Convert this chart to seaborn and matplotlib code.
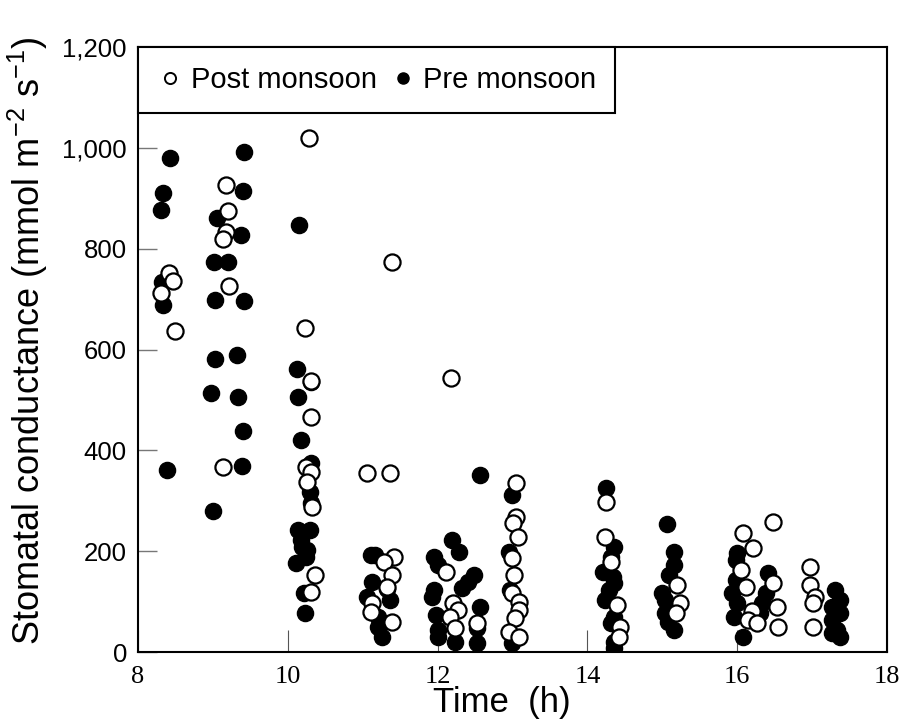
import matplotlib
matplotlib.use("Agg")
import matplotlib.pyplot as plt
import matplotlib.ticker as mticker
from matplotlib.lines import Line2D
import seaborn as sns
import pandas as pd

# ---- data ----
pre_time = [8.31, 8.34, 8.43, 8.32, 8.33, 8.39,
            9.42, 9.40, 9.05, 9.37, 9.01, 9.20, 9.03, 9.41, 9.03, 9.32, 8.98, 9.33, 9.40, 9.39, 9.00,
            10.15, 10.12, 10.14, 10.18, 10.31, 10.31, 10.30, 10.31, 10.13, 10.30, 10.17, 10.26, 10.11, 10.24, 10.19, 10.22, 10.23,
            11.11, 11.16, 11.13, 11.37, 11.06, 11.21, 11.20, 11.26, 11.33,
            12.19, 12.28, 11.95, 12.01, 12.49, 12.40, 12.33, 11.95, 11.92, 12.57, 11.98, 12.01, 12.23, 12.53, 12.53, 12.01, 12.57,
            12.99, 12.95, 12.97, 12.99,
            14.25, 14.36, 14.32, 14.21, 14.34, 14.36, 14.29, 14.23, 14.35, 14.32, 14.35, 14.36,
            15.06, 15.16, 15.16, 15.09, 14.99, 15.03, 15.04, 15.15, 15.08,
            16.00, 15.98, 16.41, 15.98, 15.93, 16.38, 16.00, 16.33, 15.96, 16.08, 16.30,
            17.30, 17.37, 17.26, 17.37, 17.26, 17.33, 17.37, 17.26]
pre_gsw = [876, 910, 979, 733, 689, 362,
           991, 914, 860, 827, 773, 773, 699, 697, 582, 590, 513, 505, 439, 370, 280,
           848, 562, 505, 421, 535, 375, 318, 296, 242, 242, 222, 203, 177, 189, 209, 117, 78,
           193, 193, 139, 103, 109, 70, 50, 30, 125,
           222, 199, 189, 173, 153, 139, 127, 123, 109, 89, 73, 44, 20, 18, 48, 30, 352,
           312, 199, 123, 18,
           326, 209, 189, 159, 149, 137, 123, 103, 70, 58, 20, 8,
           254, 199, 173, 153, 117, 103, 77, 44, 60,
           197, 183, 157, 143, 117, 117, 97, 97, 70, 30, 77,
           123, 103, 89, 77, 64, 44, 30, 38]

post_time = [8.31, 8.41, 8.47, 8.49,
             9.17, 9.20, 9.18, 9.14, 9.22, 9.14,
             10.28, 10.23, 10.31, 10.31, 10.24, 10.31, 10.26, 10.32, 10.36, 10.31,
             11.06, 11.36, 11.39, 11.42, 11.28, 11.39, 11.32, 11.13, 11.11, 11.39,
             12.18, 12.11, 12.20, 12.27, 12.17, 12.53, 12.23,
             13.05, 13.05, 13.00, 13.07, 12.99, 13.02, 12.99, 13.08, 13.09, 13.03, 12.95, 13.09,
             14.25, 14.23, 14.32, 14.40, 14.43, 14.42,
             15.19, 15.23, 15.18,
             16.47, 16.07, 16.21, 16.05, 16.47, 16.11, 16.53, 16.20, 16.14, 16.26, 16.55,
             16.97, 16.97, 17.04, 17.01, 17.01]
post_gsw = [713, 752, 735, 636,
            926, 874, 834, 819, 726, 368,
            1019, 642, 538, 467, 368, 358, 338, 288, 153, 120,
            355, 356, 773, 189, 179, 153, 129, 97, 79, 60,
            544, 159, 97, 83, 70, 58, 48,
            336, 268, 257, 229, 187, 153, 117, 100, 83, 67, 40, 30,
            298, 229, 179, 93, 50, 30,
            133, 97, 77,
            258, 237, 207, 163, 137, 129, 89, 81, 64, 58, 50,
            169, 133, 109, 97, 50]

y_ticks = [0, 200, 400, 600, 800, 1000, 1200]
x_ticks = [8, 10, 12, 14, 16, 18]

pre_df = pd.DataFrame({"Time": pre_time, "gs": pre_gsw})
post_df = pd.DataFrame({"Time": post_time, "gs": post_gsw})

# ---- figure ----
sns.set_theme(style="white")
plt.rcParams["font.family"] = ["Liberation Sans", "DejaVu Sans"]
plt.rcParams["mathtext.fontset"] = "custom"
plt.rcParams["mathtext.rm"] = "Liberation Sans"
plt.rcParams["mathtext.it"] = "Liberation Sans:italic"
plt.rcParams["text.color"] = "black"

fig = plt.figure(figsize=(9.08, 7.23), dpi=100)
ax = fig.add_axes([0.152, 0.098, 0.825, 0.837])

sns.scatterplot(data=pre_df, x="Time", y="gs", ax=ax, s=135, color="black",
                edgecolor="black", linewidth=1.0, marker="o", zorder=3, legend=False)
sns.scatterplot(data=post_df, x="Time", y="gs", ax=ax, s=135, color="white",
                edgecolor="black", linewidth=1.6, marker="o", zorder=4, legend=False)

ax.set_xlim(8, 18)
ax.set_ylim(0, 1200)
ax.set_xticks(x_ticks)
ax.set_yticks(y_ticks)
ax.yaxis.set_major_formatter(mticker.FuncFormatter(lambda v, p: f"{int(v):,}"))

for sp in ax.spines.values():
    sp.set_color("black")
    sp.set_linewidth(1.5)

ax.tick_params(axis="y", direction="in", length=14, width=1.0, color="#777777",
               labelsize=18.5, pad=8, left=True, labelcolor="black")
ax.tick_params(axis="x", direction="in", length=16, width=0.8, color="#555555",
               labelsize=19, pad=10, bottom=True, labelcolor="black")
for lab in ax.get_xticklabels():
    lab.set_family("Liberation Serif")

ax.set_ylabel("Stomatal conductance (mmol m$^{-2}$ s$^{-1}$)", fontsize=26, color="black")
ax.yaxis.set_label_coords(-0.118, 0.515)
ax.set_xlabel("Time  (h)", fontsize=25, color="black")
ax.xaxis.set_label_coords(0.486, -0.056)

handles = [
    Line2D([], [], marker="o", linestyle="none", markersize=8, markerfacecolor="white",
           markeredgecolor="black", markeredgewidth=1.4, label="Post monsoon"),
    Line2D([], [], marker="o", linestyle="none", markersize=8, markerfacecolor="black",
           markeredgecolor="black", label="Pre monsoon"),
]
leg = ax.legend(handles=handles, loc="upper left", bbox_to_anchor=(0, 1), borderaxespad=0,
                ncol=2, fontsize=21, frameon=True, fancybox=False, handletextpad=0.25,
                columnspacing=0.45, handlelength=0.9, borderpad=0.65, labelcolor="black")
leg.get_frame().set_edgecolor("black")
leg.get_frame().set_linewidth(1.5)
leg.get_frame().set_alpha(1)

fig.savefig("out.png", dpi=100)
